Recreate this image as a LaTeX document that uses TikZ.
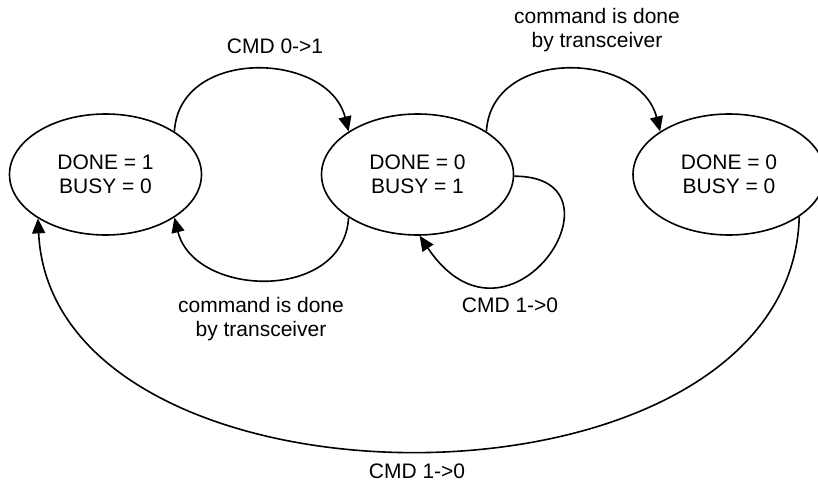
\documentclass[tikz,border=0pt]{standalone}
\usepackage{fontspec}
\setmainfont{Liberation Sans}
\usetikzlibrary{arrows.meta,shapes.geometric}
\begin{document}
\begin{tikzpicture}[x=1pt,y=-1pt,
  state/.style={ellipse,draw,line width=1.6pt,minimum width=192pt,minimum height=121pt,inner sep=0pt,align=center,font=\fontsize{21}{24}\selectfont},
  lbl/.style={align=center,font=\fontsize{21}{24.5}\selectfont,inner sep=0pt},
  conn/.style={line width=1.6pt,-{Triangle[length=15pt,width=13pt]}}]
\fill[white] (0,0) rectangle (818,484);
\useasboundingbox (0,0) rectangle (818,484);
\node[state] (e1) at (105.5,174.5) {DONE = 1\\BUSY = 0};
\node[state] (e2) at (417.5,174.5) {DONE = 0\\BUSY = 1};
\node[state] (e3) at (729,174.5) {DONE = 0\\BUSY = 0};
\draw[conn] (e1.32) .. controls +(5,-85) and +(-20,-80) .. (e2.148);
\draw[conn] (e2.212) .. controls +(-5,85) and +(20,80) .. (e1.328);
\draw[conn] (e2.32) .. controls +(5,-85) and +(-20,-80) .. (e3.148);
\draw[conn] (e2.-1) .. controls +(121,0) and +(90,134) .. (e2.272);
\draw[conn] (e3.329) .. controls +(-8,312) and +(15,310) .. (e1.213);
\node[lbl] (l1) at (275,46) {CMD 0->1};
\node[lbl] (l2) at (597,30) {command is done\\by transceiver};
\node[lbl] (l3) at (261,319) {command is done\\by transceiver};
\node[lbl] (l4) at (510,305) {CMD 1->0};
\node[lbl] (l5) at (417,471) {CMD 1->0};
\end{tikzpicture}
\end{document}
